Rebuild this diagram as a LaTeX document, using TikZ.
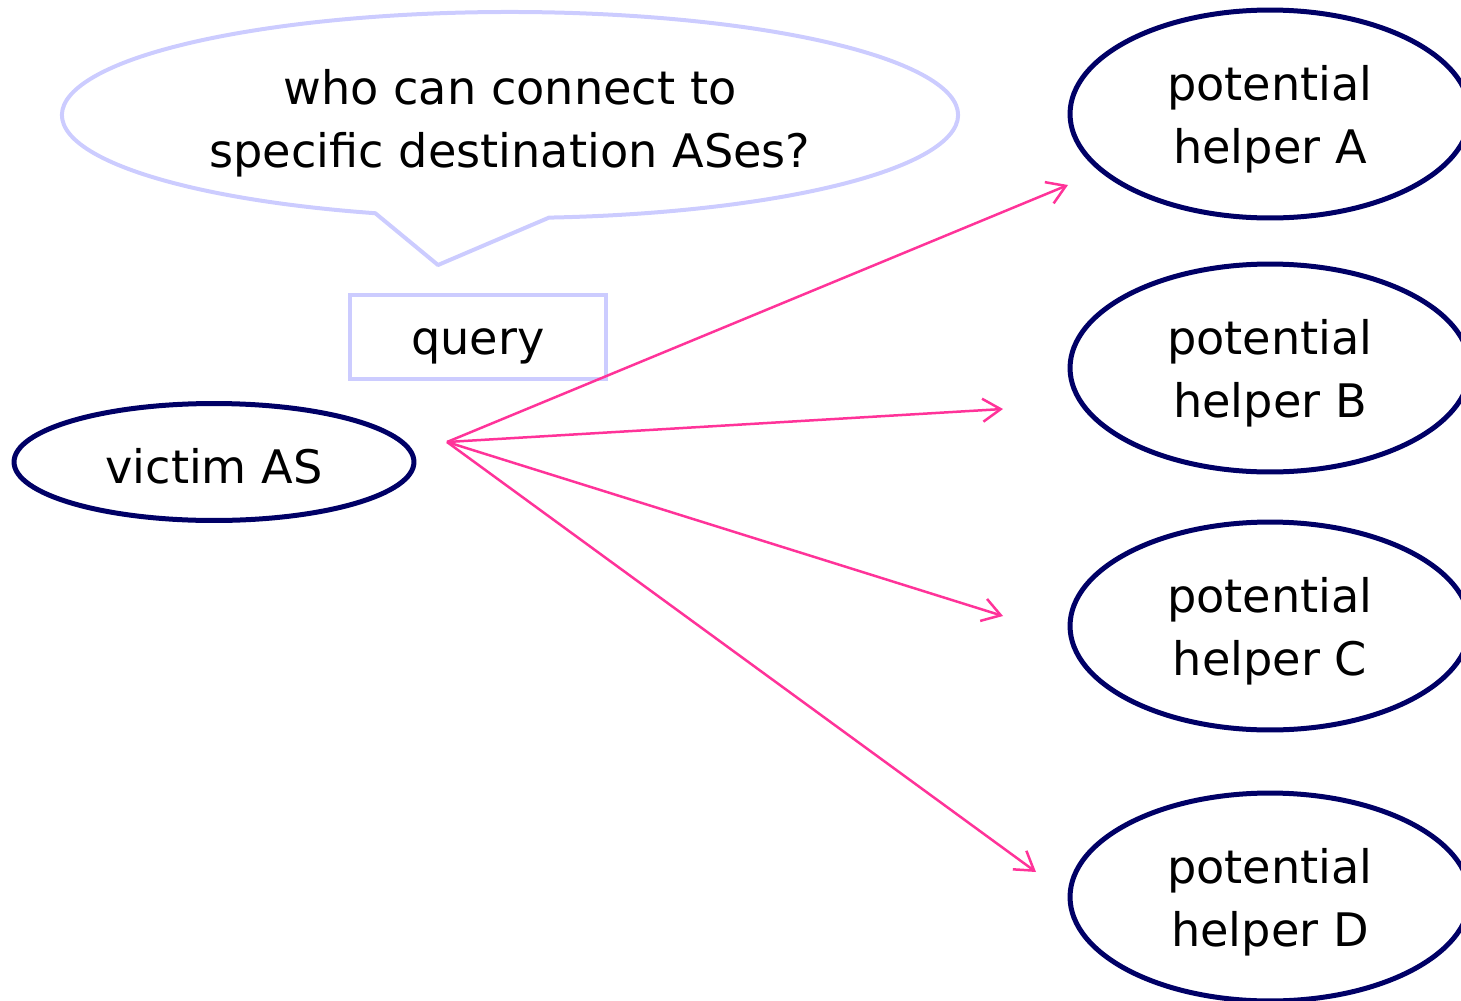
\documentclass[tikz,border=0pt]{standalone}
\usepackage{fontspec}
\setmainfont{DejaVu Sans}
\usetikzlibrary{positioning, arrows.meta, shapes.geometric, calc}
\definecolor{asnavy}{HTML}{000066}
\definecolor{bubblelav}{HTML}{CCCCFF}
\definecolor{querypink}{HTML}{FF3399}
\newcommand{\bigtext}{\fontsize{26.3pt}{35.8pt}\selectfont}

\begin{document}
\begin{tikzpicture}[x=0.02cm, y=-0.02cm,
    asnode/.style={draw=asnavy, line width=0.1cm, ellipse, inner sep=0pt,
                   align=center, font=\bigtext},
    helper/.style={asnode, minimum width=8cm, minimum height=4.16cm, text depth=0pt},
    ask/.style={draw=querypink, line width=0.05cm,
                -{Straight Barb[length=0.36cm, width=0.46cm]}}]
    \useasboundingbox (0,0) rectangle (1461,1001);
    \clip (0,0) rectangle (1461,1001);

    % speech bubble
    \node[align=center, font=\bigtext] (bubble) at (510,123)
        {who can connect to\\specific destination ASes?};
    \coordinate (bubblemid) at (510,115);
    \draw[bubblelav, line width=0.08cm, line join=round]
        ($(bubblemid)+(107.5:448 and 103)$)
        arc[start angle=107.5, end angle=445, x radius=448, y radius=103]
        -- (438,265) -- cycle;

    % query label
    \node[draw=bubblelav, line width=0.08cm, font=\bigtext,
          minimum width=5.14cm, minimum height=1.7cm] (query) at (478,337) {};
    \node[font=\bigtext] (querytext) at (478,346) {query};

    % ASes
    \node[asnode, minimum width=8cm, minimum height=2.34cm] (victim) at (214,462) {};
    \node[font=\bigtext] (victimtext) at (214,466) {victim AS};
    \node[helper] (helperA) at (1270,114) {potential\\helper A};
    \node[helper] (helperB) at (1270,368) {potential\\helper B};
    \node[helper] (helperC) at (1270,626) {potential\\helper C};
    \node[helper] (helperD) at (1270,897) {potential\\helper D};

    % queries sent out
    \coordinate (src) at (447,442);
    \coordinate (toA) at (1068,185);
    \coordinate (toB) at (1003,409);
    \coordinate (toC) at (1003,616);
    \coordinate (toD) at (1036,872);
    \foreach \t in {toA, toB, toC, toD}
        \draw[ask] (src) -- (\t);
\end{tikzpicture}
\end{document}
